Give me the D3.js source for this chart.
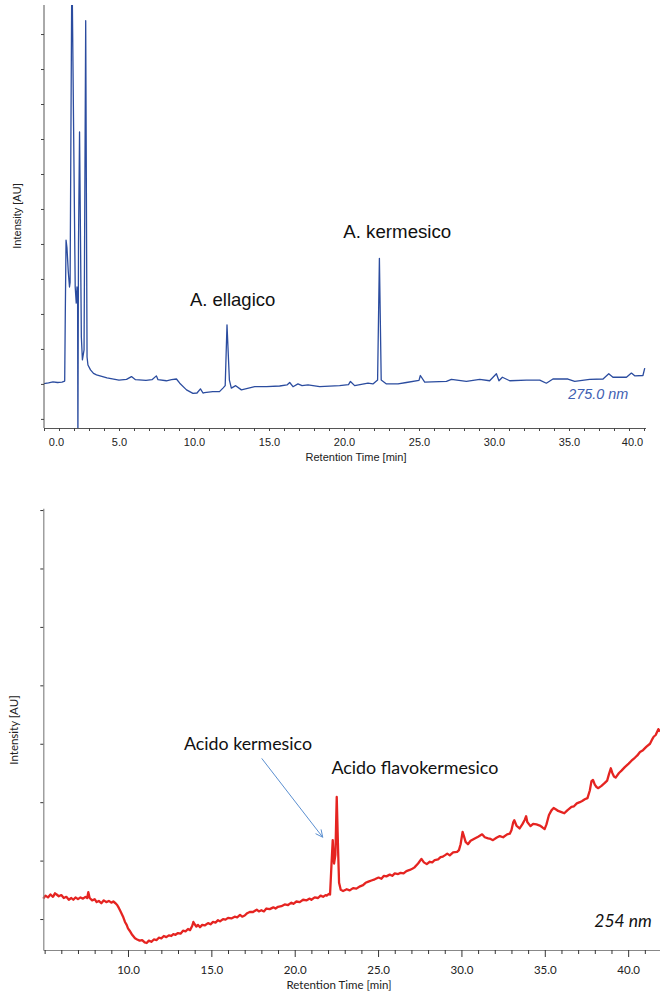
<!DOCTYPE html>
<html>
<head>
<meta charset="utf-8">
<script src="https://cdn.jsdelivr.net/npm/d3@7/dist/d3.min.js"></script>
<style>
  body { margin: 0; background: #fff; }
  svg { display: block; }
</style>
</head>
<body>
<div id="chart"></div>
<script>
// Two HPLC chromatograms of the same sample.
// Intensity is in arbitrary units: one unit per y-axis tick.

// 275 nm trace: [retention time (min), intensity]
const trace275 = [
  [0.0, 1.01], [0.3, 1.03], [0.6, 1.06], [0.9, 1.04], [1.2, 1.05], [1.38, 1.08],
  [1.42, 3.03], [1.47, 5.11], [1.53, 4.9], [1.62, 4.2], [1.70, 3.77], [1.74, 3.9],
  [1.86, 13.2], [2.08, 3.77], [2.15, 3.31], [2.20, 3.77], [2.24, 3.5], [2.26, -0.6],
  [2.30, 5.0], [2.37, 8.2], [2.44, 4.83], [2.49, 2.34], [2.56, 1.69], [2.67, 1.97],
  [2.78, 11.38], [2.87, 1.77], [2.93, 1.54], [3.1, 1.40], [3.3, 1.30], [3.5, 1.26],
  [4.2, 1.17], [5.0, 1.11], [5.5, 1.13], [5.83, 1.21], [6.1, 1.12], [6.8, 1.10],
  [7.2, 1.12], [7.49, 1.23], [7.6, 1.12], [8.16, 1.09], [8.5, 1.12], [8.83, 1.14],
  [9.05, 1.02], [9.5, 0.83], [9.93, 0.73], [10.2, 0.74], [10.43, 0.86], [10.6, 0.74],
  [10.7, 0.75], [11.25, 0.78], [11.7, 0.78], [11.93, 0.88], [12.08, 0.95], [12.2, 2.69],
  [12.36, 1.11], [12.49, 0.88], [12.78, 0.95], [13.16, 0.83], [14.05, 0.92], [14.83, 0.92],
  [15.71, 0.94], [16.2, 0.97], [16.38, 1.04], [16.6, 0.92], [16.93, 1.0], [17.2, 0.95],
  [17.6, 0.97], [18.38, 0.92], [19.71, 0.95], [20.3, 0.98], [20.43, 1.07], [20.71, 0.95],
  [21.6, 1.02], [21.93, 1.0], [22.24, 1.11], [22.36, 4.59], [22.48, 1.11], [22.83, 1.0],
  [23.6, 1.0], [24.16, 1.04], [25.0, 1.1], [25.09, 1.24], [25.38, 1.05], [26.83, 1.07],
  [27.16, 1.13], [28.16, 1.07], [29.05, 1.13], [29.71, 1.09], [30.16, 1.29], [30.33, 1.09],
  [30.56, 1.19], [31.05, 1.09], [32.16, 1.11], [33.05, 1.11], [33.49, 1.02], [33.93, 1.14],
  [34.93, 1.14], [35.38, 1.07], [36.38, 1.13], [37.27, 1.14], [37.65, 1.29], [37.93, 1.19],
  [38.83, 1.19], [39.16, 1.31], [39.38, 1.23], [39.93, 1.24], [40.05, 1.45]
];

// 254 nm trace: [retention time (min), intensity]
const trace254 = [
  [4.92, 0.35], [5.05, 0.40], [5.2, 0.37], [5.35, 0.42], [5.5, 0.38], [5.62, 0.44],
  [5.72, 0.42], [5.85, 0.39], [6.0, 0.41], [6.15, 0.36], [6.3, 0.38], [6.45, 0.33],
  [6.6, 0.36], [6.72, 0.33], [6.85, 0.37], [7.0, 0.34], [7.15, 0.37], [7.3, 0.35],
  [7.45, 0.38], [7.55, 0.36], [7.62, 0.46], [7.7, 0.36], [7.85, 0.32], [8.0, 0.34],
  [8.12, 0.29], [8.25, 0.31], [8.4, 0.27], [8.55, 0.32], [8.7, 0.29], [8.85, 0.31],
  [9.0, 0.28], [9.12, 0.30], [9.25, 0.27], [9.35, 0.24], [9.45, 0.19], [9.52, 0.15],
  [9.62, 0.09], [9.72, 0.03], [9.82, -0.05], [9.92, -0.10], [10.0, -0.16], [10.1, -0.20],
  [10.25, -0.27], [10.42, -0.33], [10.55, -0.35], [10.7, -0.37], [10.85, -0.36], [11.0, -0.40],
  [11.12, -0.41], [11.25, -0.37], [11.4, -0.39], [11.55, -0.35], [11.72, -0.36], [11.85, -0.32],
  [12.0, -0.33], [12.15, -0.29], [12.3, -0.31], [12.45, -0.28], [12.6, -0.29], [12.72, -0.26],
  [12.85, -0.27], [13.0, -0.24], [13.15, -0.25], [13.3, -0.20], [13.45, -0.21], [13.6, -0.17],
  [13.72, -0.19], [13.85, -0.12], [13.92, -0.05], [14.0, -0.09], [14.1, -0.13], [14.2, -0.10],
  [14.32, -0.14], [14.45, -0.10], [14.6, -0.11], [14.8, -0.07], [14.95, -0.09], [15.1, -0.05],
  [15.25, -0.06], [15.4, -0.02], [15.52, -0.04], [15.7, 0.0], [15.85, -0.01], [16.0, 0.02],
  [16.2, 0.01], [16.4, 0.04], [16.55, 0.03], [16.72, 0.07], [16.85, 0.04], [17.0, 0.06],
  [17.15, 0.10], [17.3, 0.12], [17.5, 0.12], [17.72, 0.16], [17.85, 0.13], [18.0, 0.15],
  [18.15, 0.13], [18.3, 0.18], [18.5, 0.17], [18.72, 0.20], [18.85, 0.18], [19.0, 0.21],
  [19.2, 0.22], [19.4, 0.25], [19.6, 0.24], [19.8, 0.28], [19.92, 0.26], [20.1, 0.30],
  [20.3, 0.29], [20.5, 0.33], [20.72, 0.32], [20.9, 0.35], [21.0, 0.33], [21.2, 0.37],
  [21.4, 0.36], [21.55, 0.40], [21.7, 0.38], [21.85, 0.41], [21.92, 0.40], [22.05, 0.43],
  [22.12, 0.42], [22.2, 0.9], [22.28, 1.35], [22.36, 0.95], [22.44, 1.1], [22.52, 2.09],
  [22.6, 1.2], [22.66, 0.62], [22.76, 0.50], [22.9, 0.48], [23.12, 0.51], [23.3, 0.49],
  [23.5, 0.53], [23.7, 0.52], [23.92, 0.56], [24.1, 0.58], [24.25, 0.62], [24.42, 0.64],
  [24.6, 0.66], [24.8, 0.68], [25.03, 0.71], [25.2, 0.69], [25.35, 0.74], [25.5, 0.73],
  [25.7, 0.76], [25.85, 0.74], [26.0, 0.78], [26.2, 0.77], [26.35, 0.79], [26.53, 0.78],
  [26.7, 0.82], [26.9, 0.84], [27.05, 0.86], [27.17, 0.88], [27.4, 0.95], [27.6, 1.03],
  [27.75, 0.97], [27.92, 0.94], [28.1, 0.98], [28.25, 0.97], [28.4, 1.01], [28.6, 1.02],
  [28.75, 1.06], [28.89, 1.07], [29.0, 1.09], [29.15, 1.12], [29.3, 1.09], [29.5, 1.14],
  [29.74, 1.15], [29.85, 1.18], [29.95, 1.28], [30.07, 1.49], [30.15, 1.42], [30.25, 1.32],
  [30.39, 1.28], [30.55, 1.34], [30.8, 1.38], [31.0, 1.41], [31.24, 1.45], [31.4, 1.40],
  [31.6, 1.38], [31.75, 1.37], [31.89, 1.35], [32.1, 1.39], [32.3, 1.42], [32.5, 1.40],
  [32.74, 1.45], [32.9, 1.46], [33.0, 1.52], [33.1, 1.65], [33.17, 1.69], [33.3, 1.60],
  [33.49, 1.55], [33.65, 1.62], [33.8, 1.70], [33.88, 1.76], [33.95, 1.66], [34.14, 1.59],
  [34.3, 1.63], [34.5, 1.62], [34.7, 1.60], [34.85, 1.57], [34.99, 1.54], [35.1, 1.62],
  [35.25, 1.78], [35.4, 1.86], [35.53, 1.90], [35.7, 1.87], [35.8, 1.85], [36.0, 1.83],
  [36.17, 1.81], [36.35, 1.86], [36.6, 1.92], [36.75, 1.93], [36.92, 1.98], [37.1, 2.00],
  [37.24, 2.02], [37.4, 2.05], [37.56, 2.07], [37.7, 2.2], [37.8, 2.36], [37.89, 2.38],
  [38.0, 2.30], [38.1, 2.26], [38.21, 2.24], [38.4, 2.28], [38.6, 2.33], [38.74, 2.37],
  [38.85, 2.48], [38.96, 2.58], [39.05, 2.50], [39.15, 2.44], [39.25, 2.42], [39.45, 2.50],
  [39.6, 2.54], [39.8, 2.60], [40.03, 2.66], [40.2, 2.71], [40.4, 2.76], [40.55, 2.80],
  [40.71, 2.86], [40.89, 2.89], [41.1, 2.95], [41.31, 3.0], [41.45, 3.08], [41.53, 3.12],
  [41.65, 3.15], [41.81, 3.25], [41.91, 3.21]
];

// Tick values (labelled every 5 min, unlabelled every minute).
const topMajorTicks = [0, 5, 10, 15, 20, 25, 30, 35, 40];
const bottomMajorTicks = [10, 15, 20, 25, 30, 35, 40];
const topYTicks = [0, 1, 2, 3, 4, 5, 6, 7, 8, 9, 10, 11];
const bottomYTicks = [0, 1, 2, 3, 4, 5, 6, 7];

// Peak names and wavelength captions.
const topPeakLabels = ['A. ellagico', 'A. kermesico'];
const bottomPeakLabels = ['Acido kermesico', 'Acido flavokermesico'];
const wavelengthLabels = ['275.0 nm', '254 nm'];

const W = 660, H = 996;
const svg = d3.select('#chart').append('svg').attr('width', W).attr('height', H);
svg.append('rect').attr('width', W).attr('height', H).attr('fill', '#fff');

const fmt = d3.format('.1f');

// ---------- top panel (275 nm) ----------
{
  const x = d3.scaleLinear().domain([0, 40.1]).range([44, 645.5]);
  const y = d3.scaleLinear().domain([-0.26, 11.83]).range([428, 5]);
  const font = '"Liberation Sans", Arial, sans-serif';

  svg.append('clipPath').attr('id', 'clipTop')
    .append('rect').attr('x', 44).attr('y', 5).attr('width', 602).attr('height', 423);

  const line = d3.line().x(d => x(d[0])).y(d => y(d[1]));
  svg.append('path')
    .datum(trace275)
    .attr('clip-path', 'url(#clipTop)')
    .attr('fill', 'none')
    .attr('stroke', '#2b4c9f')
    .attr('stroke-width', 1.3)
    .attr('stroke-linejoin', 'round')
    .attr('d', line);

  const xAxis = svg.append('g')
    .attr('transform', 'translate(0,428)')
    .call(d3.axisBottom(x)
      .tickValues(d3.range(0, 41, 1))
      .tickSize(3).tickSizeOuter(0).tickPadding(7)
      .tickFormat(d => topMajorTicks.includes(d) ? fmt(d) : ''));
  xAxis.select('.domain').attr('stroke', '#555');
  xAxis.selectAll('.tick line').attr('stroke', '#444');
  xAxis.selectAll('.tick text')
    .attr('font-family', font).attr('font-size', 11).attr('fill', '#222')
    .attr('dx', d => d === 0 ? 12 : d === 40 ? -12 : 0);

  const yAxis = svg.append('g')
    .attr('transform', 'translate(44,0)')
    .call(d3.axisLeft(y).tickValues(topYTicks).tickSize(3).tickSizeOuter(0).tickFormat(''));
  yAxis.select('.domain').attr('stroke', '#555').attr('d', 'M0,5V428');
  yAxis.selectAll('.tick line').attr('stroke', '#444');

  svg.append('text')
    .attr('x', 356).attr('y', 461)
    .attr('text-anchor', 'middle')
    .attr('font-family', font).attr('font-size', 11).attr('fill', '#222')
    .text('Retention Time [min]');

  svg.append('text')
    .attr('transform', 'translate(21,216) rotate(-90)')
    .attr('text-anchor', 'middle')
    .attr('font-family', font).attr('font-size', 11).attr('fill', '#222')
    .text('Intensity [AU]');

  svg.append('text')
    .attr('x', x(9.73)).attr('y', y(3.23))
    .attr('font-family', font).attr('font-size', 18.5).attr('fill', '#111')
    .text(topPeakLabels[0]);
  svg.append('text')
    .attr('x', x(19.95)).attr('y', y(5.16))
    .attr('font-family', font).attr('font-size', 18.7).attr('fill', '#111')
    .text(topPeakLabels[1]);

  svg.append('text')
    .attr('x', x(38.95)).attr('y', y(0.57))
    .attr('text-anchor', 'end')
    .attr('font-family', font).attr('font-size', 14.4).attr('font-style', 'italic')
    .attr('fill', '#3e60b2')
    .text(wavelengthLabels[0]);
}

// ---------- bottom panel (254 nm) ----------
{
  const x = d3.scaleLinear().domain([4.92, 41.91]).range([43.3, 660]);
  const y = d3.scaleLinear().domain([-0.53, 7.03]).range([950, 508.3]);
  const font = 'Lato, "Open Sans", sans-serif';

  const line = d3.line().x(d => x(d[0])).y(d => y(d[1]));
  svg.append('path')
    .datum(trace254)
    .attr('fill', 'none')
    .attr('stroke', '#e52421')
    .attr('stroke-width', 2.3)
    .attr('stroke-linejoin', 'round')
    .attr('d', line);

  const xAxis = svg.append('g')
    .attr('transform', 'translate(0,950)')
    .call(d3.axisBottom(x)
      .tickValues(d3.range(5, 42, 1))
      .tickSize(4).tickSizeOuter(0).tickPadding(12)
      .tickFormat(d => bottomMajorTicks.includes(d) ? fmt(d) : ''));
  xAxis.select('.domain').attr('stroke', '#888').attr('stroke-width', 1.2);
  xAxis.selectAll('.tick line').attr('stroke', '#333')
    .attr('y2', d => bottomMajorTicks.includes(d) ? 7 : 4);
  xAxis.selectAll('.tick text')
    .attr('font-family', font).attr('font-size', 11.5).attr('fill', '#222');

  const yAxis = svg.append('g')
    .attr('transform', 'translate(43.3,0)')
    .call(d3.axisLeft(y).tickValues(bottomYTicks).tickSize(3).tickSizeOuter(0).tickFormat(''));
  yAxis.select('.domain').attr('stroke', '#888').attr('stroke-width', 1.2);
  yAxis.selectAll('.tick line').attr('stroke', '#333');

  svg.append('text')
    .attr('x', 339).attr('y', 989)
    .attr('text-anchor', 'middle')
    .attr('font-family', font).attr('font-size', 11.5).attr('fill', '#222')
    .text('Retention Time [min]');

  svg.append('text')
    .attr('transform', 'translate(18,730) rotate(-90)')
    .attr('text-anchor', 'middle')
    .attr('font-family', font).attr('font-size', 11.5).attr('fill', '#222')
    .text('Intensity [AU]');

  svg.append('text')
    .attr('x', x(13.36)).attr('y', y(2.90))
    .attr('font-family', font).attr('font-size', 17.5).attr('fill', '#111')
    .attr('textLength', 128).attr('lengthAdjust', 'spacingAndGlyphs')
    .text(bottomPeakLabels[0]);
  svg.append('text')
    .attr('x', x(22.2)).attr('y', y(2.49))
    .attr('font-family', font).attr('font-size', 17.5).attr('fill', '#111')
    .attr('textLength', 167).attr('lengthAdjust', 'spacingAndGlyphs')
    .text(bottomPeakLabels[1]);

  // Arrow from the kermesic acid label to its shoulder peak.
  const x1 = x(18.02), y1 = y(2.75), x2 = x(21.68), y2 = y(1.40);
  const ang = Math.atan2(y2 - y1, x2 - x1);
  const head = 8, spread = 0.45;
  svg.append('line')
    .attr('x1', x1).attr('y1', y1).attr('x2', x2).attr('y2', y2)
    .attr('stroke', '#5b8fd0').attr('stroke-width', 1);
  svg.append('path')
    .attr('d', `M${x2 - head * Math.cos(ang - spread)},${y2 - head * Math.sin(ang - spread)}L${x2},${y2}L${x2 - head * Math.cos(ang + spread)},${y2 - head * Math.sin(ang + spread)}`)
    .attr('fill', 'none').attr('stroke', '#5b8fd0').attr('stroke-width', 1);

  svg.append('text')
    .attr('x', x(41.42)).attr('y', y(-0.14))
    .attr('text-anchor', 'end')
    .attr('font-family', font).attr('font-size', 17.5).attr('font-style', 'italic')
    .attr('fill', '#111')
    .text(wavelengthLabels[1]);
}
</script>
</body>
</html>
